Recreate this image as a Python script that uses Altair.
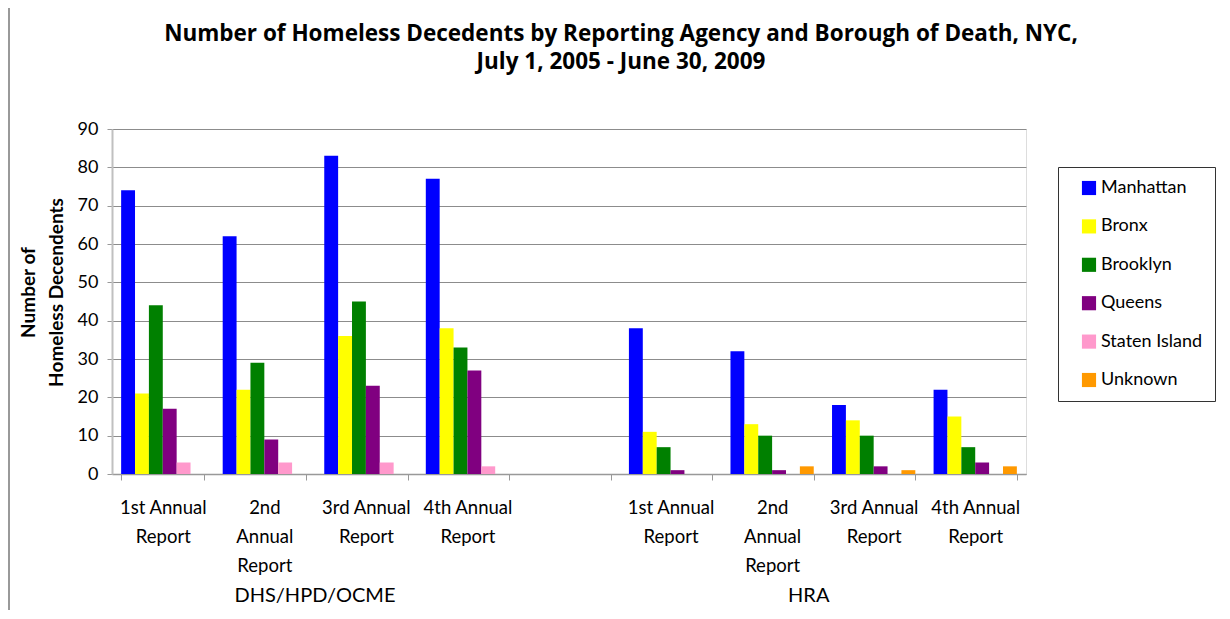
import altair as alt
import pandas as pd

# ---- data ----
groups = ["DHS/HPD/OCME", "DHS/HPD/OCME", "DHS/HPD/OCME", "DHS/HPD/OCME", "",
          "HRA", "HRA", "HRA", "HRA"]
reports = ["1st Annual|Report", "2nd|Annual|Report", "3rd Annual|Report", "4th Annual|Report", "",
           "1st Annual|Report", "2nd|Annual|Report", "3rd Annual|Report", "4th Annual|Report"]
boroughs = ["Manhattan", "Bronx", "Brooklyn", "Queens", "Staten Island", "Unknown"]
colors = ["#0000FF", "#FFFF00", "#008000", "#800080", "#FF99CC", "#FF9900"]

manhattan = [74, 62, 83, 77, None, 38, 32, 18, 22]
bronx = [21, 22, 36, 38, None, 11, 13, 14, 15]
brooklyn = [44, 29, 45, 33, None, 7, 10, 10, 7]
queens = [17, 9, 23, 27, None, 1, 1, 2, 3]
staten_island = [3, 3, 3, 2, None, 0, 0, 0, 0]
unknown = [0, 0, 0, 0, None, 0, 2, 1, 2]
series = [manhattan, bronx, brooklyn, queens, staten_island, unknown]

y_ticks = [0, 10, 20, 30, 40, 50, 60, 70, 80, 90]
group_labels = ["DHS/HPD/OCME", "HRA"]

# category keys: "<index>:<group>:<label>"
cats = [f"{i}:{g}:{r}" if r else f"{i}:gap:" for i, (g, r) in enumerate(zip(groups, reports))]

rows = []
for b, vals in zip(boroughs, series):
    for c, v in zip(cats, vals):
        if v is not None:
            rows.append({"cat": c, "borough": b, "value": v})
df = pd.DataFrame(rows)

label_expr = "split(slice(datum.label, indexof(slice(datum.label, 2), ':') + 3), '|')"

FONT = "Lato"

bars = alt.Chart(df).mark_bar().encode(
    x=alt.X("cat:N", sort=cats,
            scale=alt.Scale(domain=cats, paddingInner=0.18, paddingOuter=0.09),
            axis=alt.Axis(title=None, labelExpr=label_expr, labelAngle=0,
                          labelFontSize=18.5, labelFont=FONT, labelColor="black",
                          labelLineHeight=29, labelPadding=18, labelLimit=300,
                          tickBand="extent", tickSize=6, tickColor="#999999",
                          domainColor="#999999", domainWidth=1.5, grid=False)),
    xOffset=alt.XOffset("borough:N", sort=boroughs, scale=alt.Scale(domain=boroughs)),
    y=alt.Y("value:Q", scale=alt.Scale(domain=[0, 90], nice=False),
            axis=alt.Axis(title=["Number of", "Homeless Decendents"], values=y_ticks,
                          titleFont=FONT, titleFontSize=19, titleFontWeight="bold",
                          titleLineHeight=28, titleColor="black",
                          titleAngle=-90, titleX=-93, titleY=163, titleAlign="center",
                          titleBaseline="top",
                          labelFontSize=18, labelFont=FONT, labelColor="black",
                          labelPadding=9, tickSize=5, tickColor="#999999",
                          domainColor="#c0c0c0", domainWidth=2,
                          gridColor="#8c8c8c", gridWidth=1)),
    color=alt.Color("borough:N", sort=boroughs,
                    scale=alt.Scale(domain=boroughs, range=colors),
                    legend=alt.Legend(title=None, orient="none", legendX=946, legendY=38,
                                      padding=12, symbolOffset=10, symbolType="square",
                                      symbolSize=200, symbolStrokeWidth=0,
                                      labelFontSize=18, labelFont=FONT, labelColor="black",
                                      labelOffset=3, rowPadding=20.4,
                                      strokeColor="#333333", fillColor="white")),
)

glabels = pd.DataFrame({"cat": [cats[1], cats[6]], "label": group_labels})
grp_dhs = alt.Chart(glabels.iloc[[0]]).mark_text(
    font=FONT, fontSize=20, color="black", align="center", baseline="alphabetic", dx=9, dy=128
).encode(x=alt.X("cat:N", sort=cats, bandPosition=1), y=alt.value("height"), text="label:N")
grp_hra = alt.Chart(glabels.iloc[[1]]).mark_text(
    font=FONT, fontSize=20, color="black", align="center", baseline="alphabetic", dx=-5, dy=128
).encode(x=alt.X("cat:N", sort=cats, bandPosition=1), y=alt.value("height"), text="label:N")

frame = alt.Chart(pd.DataFrame({"k": [0]})).mark_rule(color="#999999", strokeWidth=2).encode(
    x=alt.value(-103), y=alt.value(-121), y2=alt.value(490))

chart = alt.layer(bars, grp_dhs, grp_hra, frame).properties(
    width=914, height=345,
    autosize=alt.AutoSizeParams(type="none"),
    padding={"left": 104, "top": 121, "right": 196, "bottom": 136},
    title=alt.TitleParams(
        text=["Number of Homeless Decedents by Reporting Agency and Borough of Death, NYC,",
              "July 1, 2005 - June 30, 2009"],
        font="Open Sans", fontSize=22.5, fontWeight="bold", color="black",
        anchor="middle", lineHeight=28, dx=52, offset=0, dy=66),
).configure_view(stroke=None).configure(background="white")

chart.save("out.html", embed_options={"renderer": "svg", "actions": False})
